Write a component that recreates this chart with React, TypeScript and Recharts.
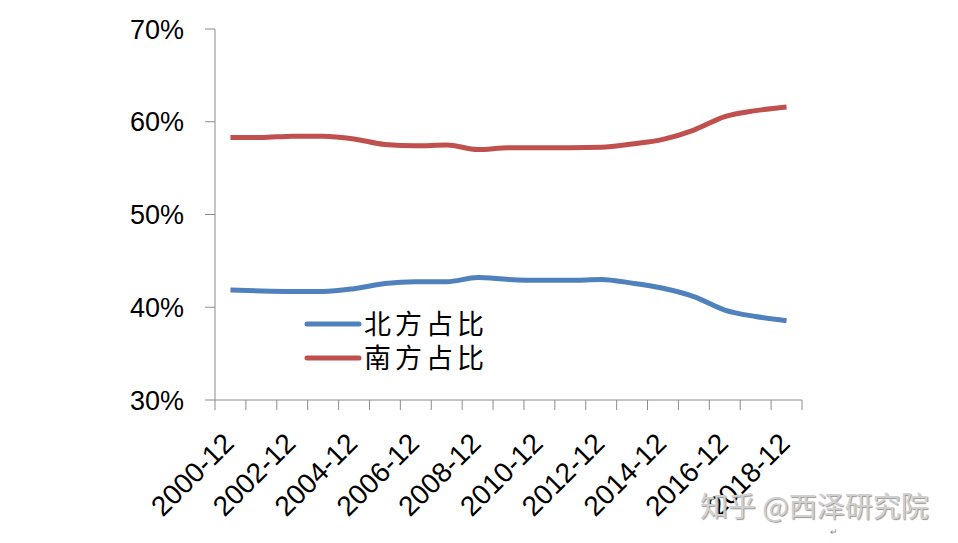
import { LineChart, Line, XAxis, YAxis, Legend } from 'recharts';

const categories = [
  '2000-12', '2001-12', '2002-12', '2003-12', '2004-12', '2005-12', '2006-12',
  '2007-12', '2008-12', '2009-12', '2010-12', '2011-12', '2012-12', '2013-12',
  '2014-12', '2015-12', '2016-12', '2017-12', '2018-12',
];
const northShare = [
  41.85, 41.75, 41.7, 41.7, 42.0, 42.55, 42.75, 42.75, 43.2, 43.0, 42.9, 42.9,
  43.0, 42.6, 42.05, 41.15, 39.7, 39.0, 38.55,
];
const southShare = [
  58.3, 58.3, 58.45, 58.45, 58.15, 57.55, 57.4, 57.5, 57.0, 57.2, 57.2, 57.2,
  57.25, 57.6, 58.1, 59.1, 60.55, 61.2, 61.6,
];
const yTicks = [30, 40, 50, 60, 70];
const seriesNames = { north: '北方占比', south: '南方占比' };

const AXIS_COLOR = '#8c8c8c';
const LABEL_FONT = '"Liberation Sans", Arial, sans-serif';
const CJK_FONT = '"Noto Sans CJK SC", sans-serif';

const data = categories.map((c, i) => ({
  i,
  name: c,
  north: northShare[i],
  south: southShare[i],
}));

// tick marks sit between categories, labels on every second category
const boundaryTicks = categories.map((_, i) => i - 0.5).concat(categories.length - 0.5);
const labelTicks = categories.map((_, i) => i).filter((i) => i % 2 === 0);
const xTicks = [...boundaryTicks, ...labelTicks].sort((a, b) => a - b);

const XTick = ({ x, y, payload }: any) => {
  const v = payload.value;
  if (!Number.isInteger(v)) {
    return <line x1={x} y1={y} x2={x} y2={y + 10} stroke={AXIS_COLOR} strokeWidth={1} />;
  }
  const tx = x + 5;
  const ty = y + 45;
  return (
    <text
      x={tx}
      y={ty}
      transform={`rotate(-45, ${tx}, ${ty})`}
      textAnchor="end"
      fontSize={28}
      fontFamily={LABEL_FONT}
      fill="#000"
    >
      {categories[v]}
    </text>
  );
};

const renderLegend = ({ payload }: any) => (
  <svg width={210} height={90} style={{ display: 'block' }}>
    {(payload || []).map((entry: any, idx: number) => (
      <g key={entry.value} transform={`translate(0, ${24 + idx * 34})`}>
        <line x1={3} y1={0} x2={55} y2={0} stroke={entry.color} strokeWidth={5} strokeLinecap="round" />
        <text
          x={60}
          y={10}
          fontFamily={CJK_FONT}
          fontSize={27}
          letterSpacing={4}
          fill="#000"
        >
          {entry.value}
        </text>
      </g>
    ))}
  </svg>
);

export default function App() {
  return (
    <div style={{ position: 'absolute', left: 0, top: 0, width: 958, height: 543, background: '#fff' }}>
      <LineChart
        width={958}
        height={543}
        data={data}
        margin={{ top: 29, right: 156, bottom: 0, left: 0 }}
      >
        <XAxis
          dataKey="i"
          type="number"
          domain={[-0.5, categories.length - 0.5]}
          ticks={xTicks}
          interval={0}
          tick={<XTick />}
          tickLine={false}
          tickSize={0}
          tickMargin={0}
          height={143}
          axisLine={{ stroke: AXIS_COLOR, strokeWidth: 1 }}
        />
        <YAxis
          type="number"
          domain={[30, 70]}
          ticks={yTicks}
          interval={0}
          width={215}
          tickSize={10}
          tickMargin={21}
          tickFormatter={(v: number) => `${v}%`}
          tick={{ fill: '#000', fontSize: 27, fontFamily: LABEL_FONT }}
          tickLine={{ stroke: AXIS_COLOR, strokeWidth: 1 }}
          axisLine={{ stroke: AXIS_COLOR, strokeWidth: 1 }}
        />
        <Legend
          layout="vertical"
          align="center"
          verticalAlign="middle"
          content={renderLegend}
          wrapperStyle={{ left: 304, top: 300, width: 'auto' }}
        />
        <Line
          type="monotone"
          dataKey="north"
          name={seriesNames.north}
          stroke="#4f81bd"
          strokeWidth={5}
          dot={false}
          isAnimationActive={false}
        />
        <Line
          type="monotone"
          dataKey="south"
          name={seriesNames.south}
          stroke="#c0504d"
          strokeWidth={5}
          dot={false}
          isAnimationActive={false}
        />
      </LineChart>
      <div
        style={{
          position: 'absolute',
          left: 700,
          top: 491,
          fontFamily: CJK_FONT,
          fontSize: 28,
          color: '#d0d0d0',
          textShadow: '1px 1px 1px #9a9a9a',
          whiteSpace: 'nowrap',
          lineHeight: '28px',
        }}
      >
        知乎 @西泽研究院
      </div>
      <div
        style={{
          position: 'absolute',
          left: 830,
          top: 527,
          fontFamily: LABEL_FONT,
          fontSize: 9,
          lineHeight: '10px',
          color: '#888',
        }}
      >
        ↵
      </div>
    </div>
  );
}
